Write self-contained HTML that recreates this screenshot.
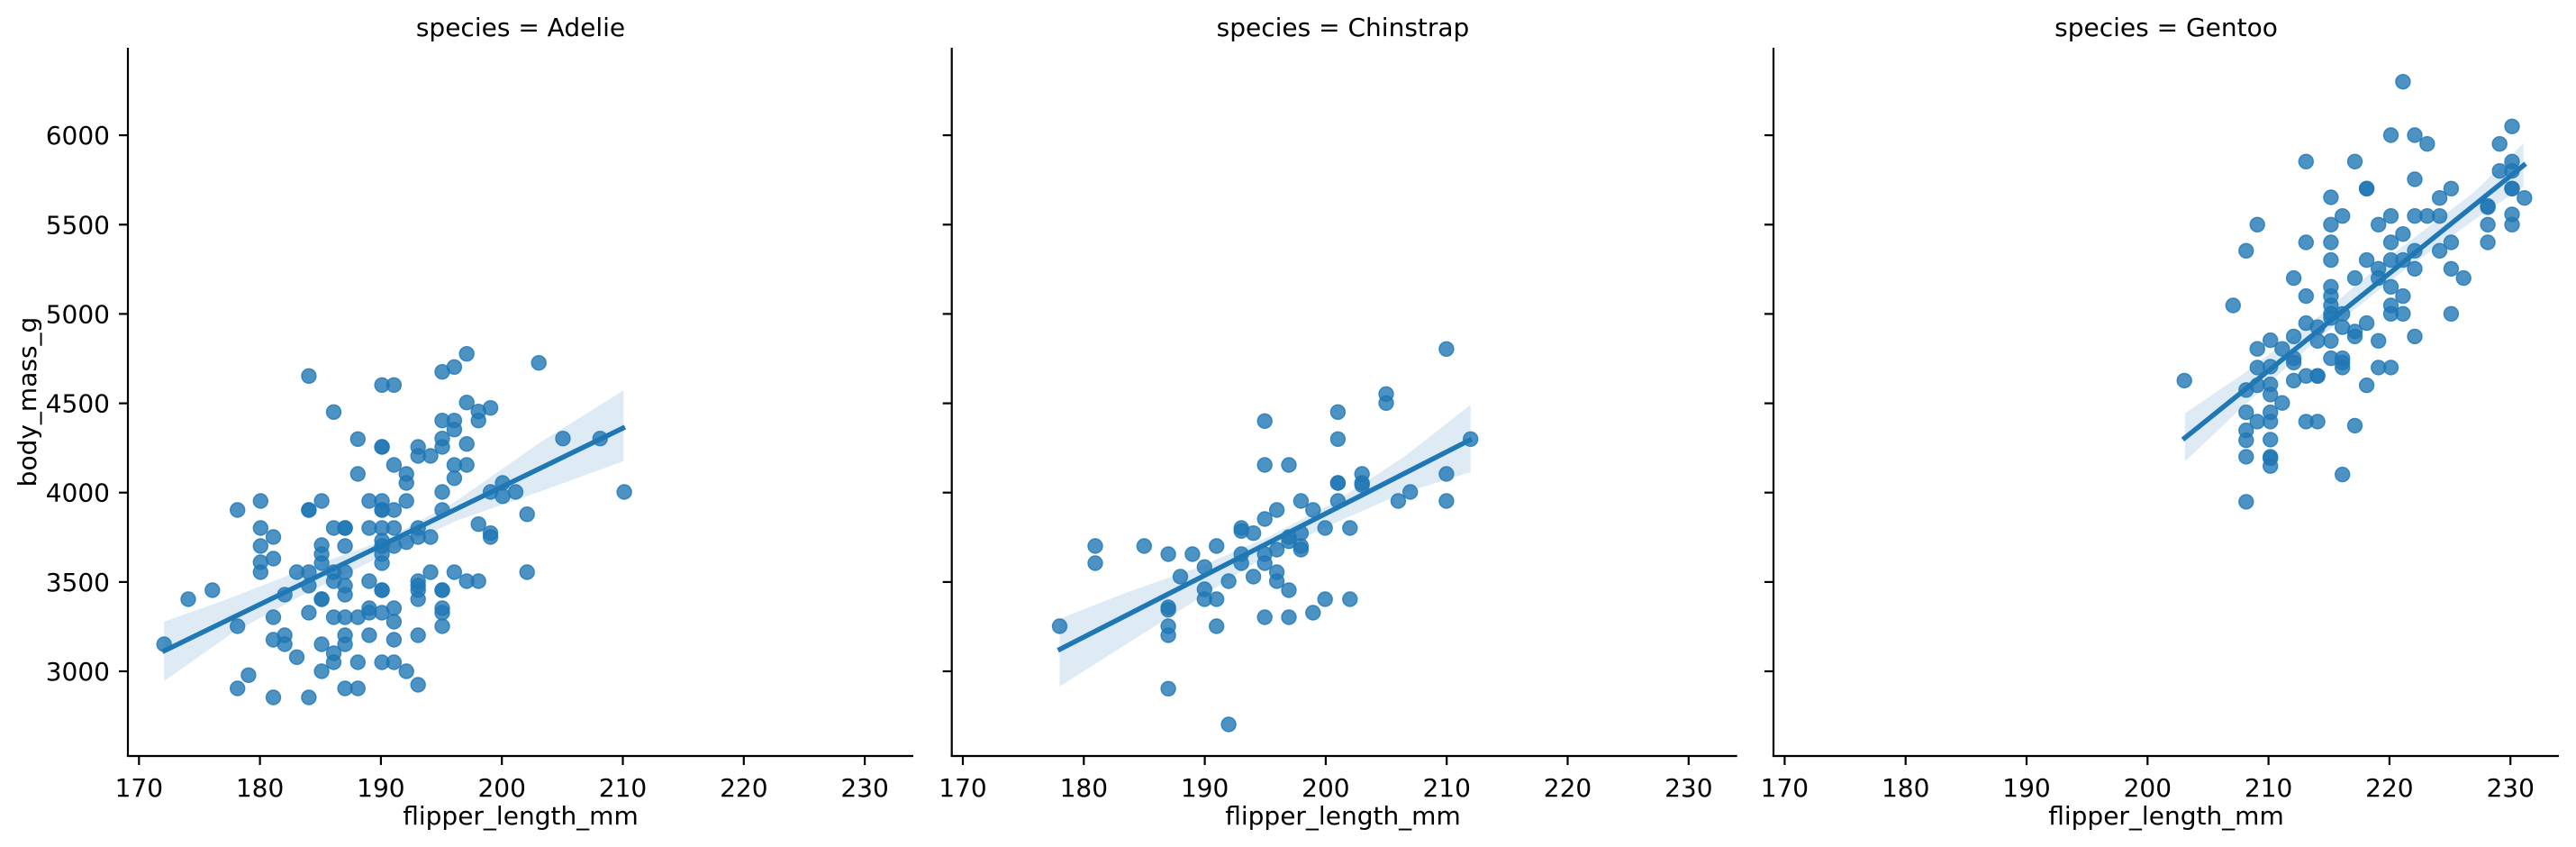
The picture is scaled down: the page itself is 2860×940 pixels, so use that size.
<!DOCTYPE html>
<html><head><meta charset="utf-8"><style>
html,body{margin:0;padding:0;background:#fff}
svg{display:block}
text{font-family:"DejaVu Sans","Liberation Sans",sans-serif;fill:#000}
</style></head><body>
<svg id="s" width="2860" height="940" viewBox="0 0 2860 940" xmlns="http://www.w3.org/2000/svg">
<rect width="2860" height="940" fill="#fff"/>
<g id="g"></g>
<text x="578" y="40" font-size="28" text-anchor="middle">species = Adelie</text>
<text x="1491" y="40" font-size="28" text-anchor="middle">species = Chinstrap</text>
<text x="2405" y="40" font-size="28" text-anchor="middle">species = Gentoo</text>
<text x="578" y="915" font-size="28" text-anchor="middle">flipper_length_mm</text>
<text x="1491" y="915" font-size="28" text-anchor="middle">flipper_length_mm</text>
<text x="2405" y="915" font-size="28" text-anchor="middle">flipper_length_mm</text>
<text transform="translate(40,446) rotate(-90)" font-size="28" text-anchor="middle">body_mass_g</text>
</svg>
<script>
var g=document.getElementById('g'),h='';
var C='#1f77b4';
var panels=[
 {ox:142,oy:300,sx:2.613,sy:3,ax:142,t0:154.3,
  line:[[100,1270],[1442,522]],
  band:[[105,1170],[300,1090],[500,1000],[740,900],[950,770],[1200,570],[1438,400],[1438,635],[1200,735],[950,835],[740,950],[500,1085],[300,1210],[105,1368]],
  pts:[[105,1245],[175,1095],[245,1065],[318,798],[385,768],[385,858],[422,888],[385,918],[422,960],[385,972],[385,1005],[318,1185],[318,1392],[350,1348],[422,1155],[422,1230],[422,1422],[455,1080],[455,1215],[455,1245],[490,1005],[490,1288],[525,352],[525,798],[525,798],[525,1005],[525,1050],[525,1140],[525,1422],[562,768],[562,915],[562,945],[562,975],[562,1095],[562,1095],[562,1245],[562,1335],[597,472],[597,858],[597,1005],[597,1035],[597,1155],[597,1275],[597,1305],[630,858],[630,858],[630,918],[630,1005],[630,1050],[630,1080],[630,1155],[630,1215],[630,1245],[630,1392],[667,562],[667,678],[667,1155],[667,1305],[667,1392],[700,768],[700,858],[700,1035],[700,1125],[700,1140],[700,1215],[737,382],[737,588],[737,588],[737,768],[737,798],[737,798],[737,858],[737,900],[737,918],[737,945],[737,975],[737,1065],[737,1065],[737,1140],[737,1305],[772,382],[772,648],[772,798],[772,858],[772,918],[772,1125],[772,1170],[772,1230],[772,1305],[808,678],[808,708],[808,768],[808,905],[808,1335],[842,588],[842,618],[842,858],[842,888],[842,1035],[842,1050],[842,1065],[842,1095],[842,1215],[842,1380],[878,618],[878,888],[878,1005],[912,338],[912,500],[912,560],[912,588],[912,738],[912,798],[912,1065],[912,1065],[912,1125],[912,1140],[912,1185],[947,322],[947,500],[947,530],[947,648],[947,692],[947,1005],[983,278],[983,440],[983,578],[983,648],[983,1035],[1017,470],[1017,500],[1017,845],[1017,1035],[1052,458],[1052,738],[1052,875],[1052,888],[1087,708],[1087,752],[1125,738],[1158,812],[1158,1005],[1192,308],[1262,560],[1370,560],[1440,738]]},
 {ox:1100,oy:350,sx:2.613,sy:3,ax:1056.7,t0:1069,
  line:[[195,1115],[1395,412]],
  band:[[200,1010],[400,920],[600,840],[800,740],[1000,620],[1200,470],[1392,298],[1392,522],[1200,590],[1000,690],[800,800],[600,945],[400,1090],[200,1235]],
  pts:[[200,1035],[303,768],[303,825],[445,768],[515,795],[515,972],[515,980],[515,1035],[515,1065],[515,1243],[550,870],[585,795],[620,838],[620,912],[620,945],[655,768],[655,945],[655,1035],[690,885],[690,1362],[727,708],[727,718],[727,795],[727,825],[762,725],[762,870],[795,352],[795,498],[795,678],[795,795],[795,825],[795,1005],[830,648],[830,780],[830,855],[830,885],[865,498],[865,738],[865,752],[865,915],[865,1005],[900,618],[900,725],[900,768],[900,780],[935,648],[935,990],[970,708],[970,945],[1007,322],[1007,412],[1007,558],[1007,558],[1007,618],[1042,708],[1042,945],[1077,528],[1077,558],[1077,565],[1147,262],[1147,292],[1182,618],[1217,588],[1322,112],[1322,528],[1322,618],[1392,412]]},
 {ox:2300,oy:50,sx:2.9,sy:2.9,ax:1969,t0:1981.4,
  line:[[358,1270],[1462,382]],
  band:[[365,1185],[550,1060],[800,870],[1050,660],[1300,470],[1455,315],[1455,455],[1300,560],[1050,740],[800,940],[550,1165],[365,1340]],
  pts:[[363,1080],[520,838],[562,662],[562,1110],[562,1182],[562,1240],[562,1272],[562,1325],[562,1470],[598,578],[598,978],[598,1038],[598,1095],[598,1212],[640,950],[640,1035],[640,1092],[640,1125],[640,1182],[640,1212],[640,1270],[640,1325],[640,1330],[640,1355],[678,978],[678,1152],[715,750],[715,938],[715,1008],[715,1022],[715,1080],[755,375],[755,635],[755,808],[755,895],[755,1065],[755,1212],[792,908],[792,952],[792,1065],[792,1065],[792,1212],[835,490],[835,578],[835,635],[835,692],[835,778],[835,808],[835,838],[835,865],[835,878],[835,952],[835,1008],[872,550],[872,865],[872,908],[872,1008],[872,1022],[872,1038],[872,1382],[912,375],[912,750],[912,922],[912,938],[912,1225],[950,462],[950,462],[950,692],[950,895],[950,1095],[988,578],[988,720],[988,750],[988,952],[988,1038],[1028,290],[1028,550],[1028,635],[1028,692],[1028,778],[1028,838],[1028,865],[1028,1038],[1067,118],[1067,608],[1067,692],[1067,808],[1067,865],[1105,290],[1105,432],[1105,550],[1105,662],[1105,720],[1105,938],[1145,318],[1145,550],[1185,492],[1185,550],[1185,662],[1222,462],[1222,635],[1222,720],[1222,865],[1262,750],[1340,518],[1340,522],[1340,578],[1340,635],[1378,318],[1378,405],[1418,262],[1418,375],[1418,405],[1418,462],[1418,462],[1418,545],[1418,578],[1458,492]]}
];
var yt=[[6000,150.1],[5500,249.3],[5000,348.4],[4500,447.6],[4000,546.7],[3500,645.9],[3000,745]];
panels.forEach(function(p,i){
  function X(v){return (p.ox+v/p.sx).toFixed(1)}
  function Y(v){return (p.oy+v/p.sy).toFixed(1)}
  h+='<polygon points="'+p.band.map(function(q){return X(q[0])+','+Y(q[1])}).join(' ')+'" fill="'+C+'" fill-opacity="0.15"/>';
  p.pts.forEach(function(q){h+='<circle cx="'+X(q[0])+'" cy="'+Y(q[1])+'" r="8" fill="'+C+'" fill-opacity="0.8" stroke="'+C+'" stroke-opacity="0.8" stroke-width="1.4"/>';});
  h+='<line x1="'+X(p.line[0][0])+'" y1="'+Y(p.line[0][1])+'" x2="'+X(p.line[1][0])+'" y2="'+Y(p.line[1][1])+'" stroke="'+C+'" stroke-width="5.5"/>';
  var a=p.ax;
  h+='<line x1="'+a+'" y1="53" x2="'+a+'" y2="840" stroke="#000" stroke-width="2.2"/>';
  h+='<line x1="'+(a-1.1)+'" y1="839" x2="'+(a+872)+'" y2="839" stroke="#000" stroke-width="2.2"/>';
  for(var k=0;k<7;k++){var tx=(p.t0+k*134.3).toFixed(1);
    h+='<line x1="'+tx+'" y1="839" x2="'+tx+'" y2="849" stroke="#000" stroke-width="2.2"/>';
    h+='<text x="'+tx+'" y="884" font-size="28" text-anchor="middle">'+(170+10*k)+'</text>';}
  yt.forEach(function(t){h+='<line x1="'+(a-10)+'" y1="'+t[1]+'" x2="'+a+'" y2="'+t[1]+'" stroke="#000" stroke-width="2.2"/>';
    if(i==0)h+='<text x="122" y="'+(t[1]+10)+'" font-size="28" text-anchor="end">'+t[0]+'</text>';});
});
g.innerHTML=h;
</script>
</body></html>
